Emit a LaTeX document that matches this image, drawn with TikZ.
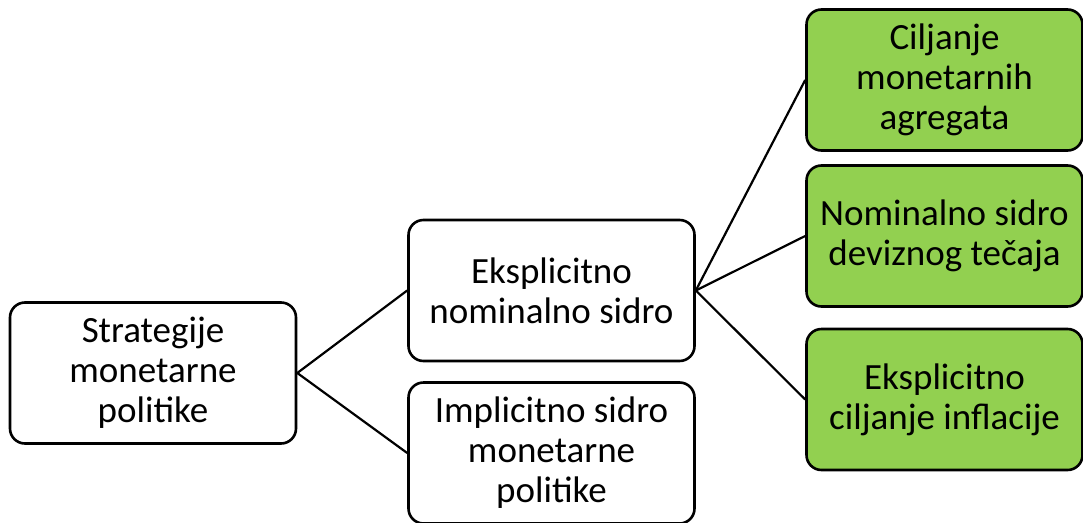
\documentclass[tikz,border=0pt]{standalone}
\usepackage{fontspec}
\setmainfont{Carlito}
\definecolor{boxgreen}{HTML}{92D050}
\begin{document}
\begin{tikzpicture}[x=1pt,y=-1pt,
  box/.style={draw=black, line width=2.6pt, rounded corners=15pt, fill=white,
    minimum width=286pt, minimum height=141pt, inner sep=0pt, align=center,
    font=\fontsize{37}{40}\selectfont},
  gbox/.style={box, fill=boxgreen, minimum width=276pt},
  link/.style={line width=2.2pt}]
\useasboundingbox (0,0) rectangle (1083,522);
\node[box] (root) at (153,373) {Strategije\\monetarne\\politike};
\node[box] (expl) at (551.5,290.5) {Eksplicitno\\nominalno sidro};
\node[box] (impl) at (551.5,453) {Implicitno sidro\\monetarne\\politike};
\node[gbox] (agg) at (944.5,80) {Ciljanje\\monetarnih\\agregata};
\node[gbox] (fx) at (944.5,236) {Nominalno sidro\\deviznog tečaja};
\node[gbox] (inf) at (944.5,399.5) {Eksplicitno\\ciljanje inflacije};
\draw[link] (root.east) -- (expl.west);
\draw[link] (root.east) -- (impl.west);
\draw[link] (expl.east) -- (agg.west);
\draw[link] (expl.east) -- (fx.west);
\draw[link] (expl.east) -- (inf.west);
\end{tikzpicture}
\end{document}
